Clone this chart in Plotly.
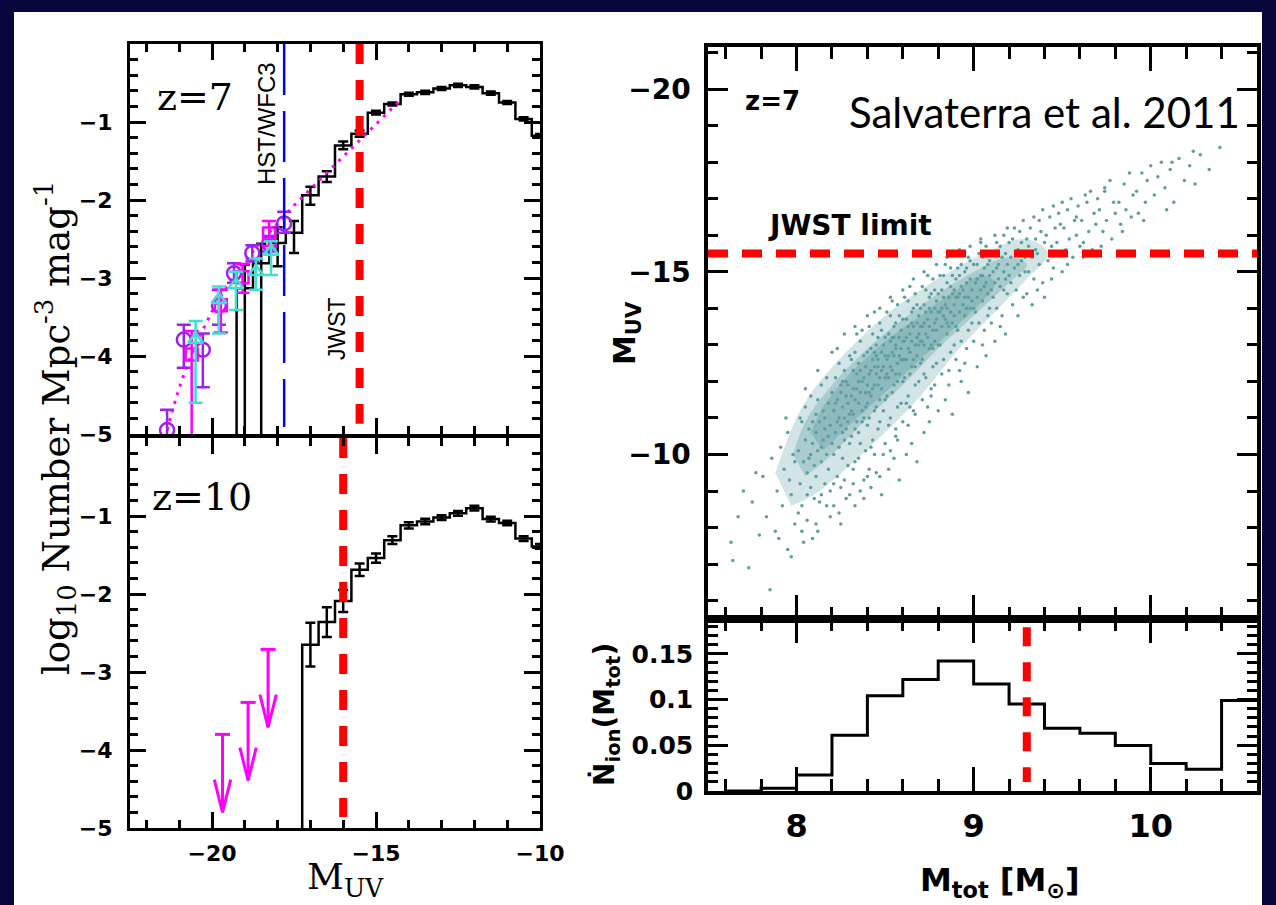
import plotly.graph_objects as go

W, H = 1276, 905

# ---------------- data: left top panel (z=7) ----------------
z7_centers = [-19.0, -18.5, -18.0, -17.5, -17.0, -16.5, -16.0, -15.5, -15.0, -14.5, -14.0,
              -13.5, -13.0, -12.5, -12.0, -11.5, -11.0, -10.5, -10.0]
z7_logphi = [-3.13, -2.81, -2.55, -2.42, -1.94, -1.70, -1.30, -1.15, -0.88, -0.77, -0.645,
             -0.62, -0.57, -0.53, -0.55, -0.63, -0.75, -0.96, -1.175]
z7_err_plus = [0.30, 0.25, 0.20, 0.15, 0.11, 0.07, 0.05, 0.04, 0.025, 0.02, 0.02,
               0.02, 0.02, 0.02, 0.02, 0.02, 0.02, 0.02, 0.02]
z7_err_minus = [5.0, 5.0, 0.30, 0.26, 0.12, 0.07, 0.05, 0.04, 0.025, 0.02, 0.02,
                0.02, 0.02, 0.02, 0.02, 0.02, 0.02, 0.02, 0.02]

obs_circ_mag = [-21.37, -20.86, -20.28, -19.79, -19.33, -18.77, -18.26, -17.80]
obs_circ_phi = [-4.95, -3.79, -3.92, -3.35, -2.94, -2.68, -2.56, -2.30]
obs_circ_up = [0.26, 0.19, 0.21, 0.20, 0.13, 0.10, 0.10, 0.15]
obs_circ_dn = [0.30, 0.36, 0.48, 0.25, 0.12, 0.11, 0.10, 0.12]

obs_sq_mag = [-20.62, -19.73, -19.07, -18.26]
obs_sq_phi = [-3.98, -3.35, -2.99, -2.43]
obs_sq_up = [0.30, 0.20, 0.17, 0.16]
obs_sq_dn = [3.0, 0.35, 0.20, 0.16]

obs_tri_mag = [-20.50, -19.79, -19.27, -18.66, -18.20]
obs_tri_phi = [-3.79, -3.28, -3.09, -2.92, -2.66]
obs_tri_up = [0.24, 0.17, 0.17, 0.17, 0.13]
obs_tri_dn = [0.81, 0.43, 0.32, 0.23, 0.30]

sch_mag = [-21.5, -21.25, -21.0, -20.75, -20.5, -20.25, -20.0, -19.75, -19.5, -19.0, -18.5,
           -18.0, -17.5, -17.0, -16.5, -16.0, -15.5, -15.0, -14.5, -14.2]
sch_logphi = [-5.17, -4.76, -4.41, -4.11, -3.85, -3.63, -3.43, -3.25, -3.08, -2.79, -2.53,
              -2.30, -2.07, -1.86, -1.65, -1.44, -1.23, -1.03, -0.82, -0.70]

hst_limit_z7 = -17.8
jwst_limit_z7 = -15.5

# ---------------- data: left bottom panel (z=10) ----------------
z10_centers = [-17.0, -16.5, -16.0, -15.5, -15.0, -14.5, -14.0, -13.5, -13.0, -12.5, -12.0,
               -11.5, -11.0, -10.5, -10.0]
z10_logphi = [-2.65, -2.36, -2.09, -1.69, -1.54, -1.31, -1.12, -1.07, -1.02, -0.966, -0.90,
              -1.04, -1.09, -1.29, -1.39]
z10_err = [0.28, 0.19, 0.14, 0.08, 0.06, 0.05, 0.04, 0.035, 0.03, 0.03, 0.03,
           0.03, 0.03, 0.03, 0.03]
z10_ul_mag = [-19.68, -18.90, -18.29]
z10_ul_phi = [-3.80, -3.39, -2.71]
jwst_limit_z10 = -16.0

# ---------------- data: right panels ----------------
scatter_points = [
    (7.63, -7.6), (7.64, -7.1), (7.67, -8.3), (7.70, -9.0), (7.73, -6.9), (7.75, -8.7), (7.77, -9.5), (7.79, -7.8),
    (7.81, -9.4), (7.83, -8.3), (7.85, -6.3), (7.86, -9.9), (7.88, -7.9), (7.89, -9.0), (7.91, -10.2), (7.92, -8.6),
    (7.93, -9.6), (7.95, -7.4), (7.95, -10.6), (7.96, -9.3), (7.97, -8.9), (7.98, -10.0), (7.99, -8.1), (8.00, -5.7),
    (7.99, -9.8), (7.94, -11.0), (7.90, -7.7), (7.97, -7.2),
    (8.01, -10.1), (8.02, -9.2), (8.03, -10.9), (8.03, -8.6), (8.04, -9.8), (8.05, -11.3), (8.05, -10.4), (8.06, -9.5),
    (8.06, -8.2), (8.07, -10.7), (8.07, -9.9), (8.08, -11.6), (8.08, -9.1), (8.09, -10.3), (8.09, -10.9), (8.10, -8.8),
    (8.10, -9.7), (8.04, -7.6), (8.02, -11.0), (8.08, -10.0), (8.01, -8.4), (8.03, -7.9), (8.06, -8.9), (8.09, -7.7),
    (8.05, -11.8),
    (8.11, -10.6), (8.11, -9.4), (8.12, -11.5), (8.12, -10.1), (8.13, -8.7), (8.13, -10.9), (8.14, -11.9), (8.14, -9.8),
    (8.15, -10.4), (8.15, -11.2), (8.16, -9.2), (8.16, -10.7), (8.17, -12.1), (8.17, -10.0), (8.18, -11.4), (8.18, -9.6),
    (8.19, -10.8), (8.19, -8.3), (8.20, -11.7), (8.20, -10.3), (8.12, -7.9), (8.16, -11.0), (8.18, -10.5), (8.14, -10.2),
    (8.11, -11.1), (8.11, -8.1), (8.14, -8.9), (8.17, -8.6), (8.19, -9.0), (8.12, -12.3), (8.20, -12.8),
    (8.21, -11.2), (8.21, -10.0), (8.22, -12.1), (8.22, -10.6), (8.23, -11.5), (8.23, -9.4), (8.24, -11.0), (8.24, -12.5),
    (8.25, -10.8), (8.25, -11.7), (8.26, -9.9), (8.26, -11.3), (8.27, -12.3), (8.27, -10.4), (8.28, -11.6), (8.28, -8.8),
    (8.29, -11.9), (8.29, -10.9), (8.30, -12.7), (8.30, -11.1), (8.22, -11.4), (8.24, -10.2), (8.26, -12.0), (8.28, -10.7),
    (8.21, -8.6), (8.23, -12.9), (8.25, -11.9), (8.27, -11.0), (8.29, -9.7), (8.30, -10.3), (8.23, -10.9), (8.26, -10.6),
    (8.28, -12.0), (8.25, -9.1), (8.29, -11.4), (8.21, -9.2), (8.24, -8.4), (8.27, -9.3), (8.30, -8.9), (8.27, -13.3),
    (8.25, -8.1),
    (8.31, -11.6), (8.31, -10.5), (8.32, -12.3), (8.32, -11.1), (8.33, -12.8), (8.33, -9.8), (8.34, -11.8), (8.34, -10.9),
    (8.35, -12.5), (8.35, -11.4), (8.36, -13.1), (8.36, -10.3), (8.37, -12.0), (8.37, -11.2), (8.38, -12.7), (8.38, -9.3),
    (8.39, -11.7), (8.39, -12.4), (8.40, -10.8), (8.40, -11.9), (8.31, -12.6), (8.32, -9.6), (8.33, -11.5), (8.34, -12.2),
    (8.35, -10.6), (8.36, -11.7), (8.37, -13.4), (8.38, -11.0), (8.39, -10.1), (8.40, -12.8), (8.31, -11.2), (8.33, -10.7),
    (8.35, -12.0), (8.37, -10.9), (8.39, -11.3), (8.34, -13.3), (8.36, -12.3), (8.38, -12.1), (8.32, -11.8), (8.40, -11.4),
    (8.32, -9.2), (8.35, -9.9), (8.38, -8.8), (8.33, -13.5), (8.40, -13.8), (8.33, -8.6), (8.36, -9.0), (8.40, -9.4),
    (8.41, -12.2), (8.41, -11.0), (8.42, -12.9), (8.42, -11.6), (8.43, -13.3), (8.43, -10.4), (8.44, -12.4), (8.44, -11.9),
    (8.45, -13.0), (8.45, -11.3), (8.46, -12.6), (8.46, -10.7), (8.47, -13.6), (8.47, -12.1), (8.48, -11.8), (8.48, -12.8),
    (8.49, -10.0), (8.49, -12.4), (8.50, -13.2), (8.50, -11.5), (8.41, -13.5), (8.42, -12.3), (8.43, -11.8), (8.44, -13.9),
    (8.45, -12.2), (8.46, -11.9), (8.47, -10.9), (8.48, -13.4), (8.49, -11.2), (8.50, -12.7), (8.41, -11.7), (8.43, -12.6),
    (8.45, -12.7), (8.47, -11.5), (8.49, -13.0), (8.42, -10.2), (8.44, -11.2), (8.46, -13.2), (8.48, -12.3), (8.50, -12.1),
    (8.46, -12.4), (8.44, -12.8), (8.41, -9.6), (8.44, -10.0), (8.47, -9.4), (8.50, -10.3), (8.47, -14.0),
    (8.42, -9.1), (8.45, -9.5), (8.48, -8.9),
    (8.51, -12.6), (8.51, -11.6), (8.52, -13.3), (8.52, -12.1), (8.53, -13.8), (8.53, -11.0), (8.54, -12.8), (8.54, -12.3),
    (8.55, -13.5), (8.55, -11.9), (8.56, -13.0), (8.56, -10.5), (8.57, -14.1), (8.57, -12.5), (8.58, -12.2), (8.58, -13.2),
    (8.59, -11.4), (8.59, -12.9), (8.60, -13.7), (8.60, -12.0), (8.51, -13.9), (8.52, -12.7), (8.53, -12.4), (8.54, -14.2),
    (8.55, -12.7), (8.56, -12.2), (8.57, -11.3), (8.58, -13.8), (8.59, -12.6), (8.60, -13.1), (8.51, -12.2), (8.53, -13.1),
    (8.55, -13.2), (8.57, -12.0), (8.59, -13.4), (8.52, -10.8), (8.54, -11.7), (8.56, -13.6), (8.58, -12.7), (8.60, -12.6),
    (8.56, -12.9), (8.54, -13.2), (8.53, -10.1), (8.57, -10.4), (8.60, -10.9), (8.53, -14.3), (8.60, -14.5),
    (8.52, -9.6), (8.55, -9.9), (8.58, -9.3), (8.56, -10.7),
    (8.61, -13.1), (8.61, -12.1), (8.62, -13.7), (8.62, -12.6), (8.63, -14.2), (8.63, -11.6), (8.64, -13.3), (8.64, -12.8),
    (8.65, -13.9), (8.65, -12.4), (8.66, -13.5), (8.66, -11.2), (8.67, -14.4), (8.67, -13.0), (8.68, -12.7), (8.68, -13.6),
    (8.69, -12.0), (8.69, -13.3), (8.70, -14.0), (8.70, -12.5), (8.61, -14.3), (8.62, -13.2), (8.63, -12.9), (8.64, -14.6),
    (8.65, -13.1), (8.66, -12.6), (8.67, -11.9), (8.68, -14.1), (8.69, -13.0), (8.70, -13.5), (8.61, -12.6), (8.63, -13.5),
    (8.65, -13.6), (8.67, -12.4), (8.69, -13.8), (8.62, -11.4), (8.64, -12.2), (8.66, -14.0), (8.68, -13.2), (8.70, -13.1),
    (8.63, -10.8), (8.67, -11.1), (8.66, -14.8), (8.62, -10.0), (8.65, -10.3), (8.68, -9.8), (8.64, -11.3),
    (8.71, -13.5), (8.71, -12.6), (8.72, -14.1), (8.72, -13.0), (8.73, -14.5), (8.73, -12.1), (8.74, -13.7), (8.74, -13.2),
    (8.75, -14.3), (8.75, -12.9), (8.76, -13.9), (8.76, -11.8), (8.77, -14.8), (8.77, -13.4), (8.78, -13.1), (8.78, -14.0),
    (8.79, -12.5), (8.79, -13.7), (8.80, -14.4), (8.80, -13.0), (8.71, -14.6), (8.72, -13.6), (8.73, -13.3), (8.74, -14.9),
    (8.75, -13.5), (8.76, -13.0), (8.77, -12.4), (8.78, -14.5), (8.79, -13.4), (8.80, -13.9), (8.71, -13.1), (8.73, -13.9),
    (8.75, -14.0), (8.77, -12.9), (8.79, -14.2), (8.72, -12.2), (8.76, -14.4), (8.78, -13.6), (8.71, -11.5), (8.74, -11.3),
    (8.78, -11.9), (8.72, -15.0), (8.79, -15.2), (8.72, -10.6), (8.75, -10.9), (8.80, -11.2), (8.76, -11.6),
    (8.81, -13.9), (8.81, -13.0), (8.82, -14.5), (8.82, -13.5), (8.83, -14.9), (8.83, -12.6), (8.84, -14.1), (8.84, -13.7),
    (8.85, -14.7), (8.85, -13.3), (8.86, -14.3), (8.86, -12.3), (8.87, -15.1), (8.87, -13.9), (8.88, -13.6), (8.88, -14.4),
    (8.89, -13.0), (8.89, -14.1), (8.90, -14.8), (8.90, -13.5), (8.81, -14.9), (8.82, -14.0), (8.83, -13.8), (8.84, -15.2),
    (8.85, -14.0), (8.86, -13.5), (8.87, -12.8), (8.88, -14.9), (8.89, -13.8), (8.90, -14.3), (8.83, -14.3), (8.85, -13.6),
    (8.87, -14.6), (8.89, -14.5), (8.82, -12.2), (8.86, -11.9), (8.90, -12.6), (8.85, -15.4), (8.84, -11.5), (8.88, -11.1),
    (8.91, -14.3), (8.91, -13.4), (8.92, -14.9), (8.92, -13.9), (8.93, -15.2), (8.93, -13.1), (8.94, -14.5), (8.94, -14.1),
    (8.95, -15.0), (8.95, -13.8), (8.96, -14.7), (8.96, -12.9), (8.97, -15.4), (8.97, -14.3), (8.98, -14.0), (8.98, -14.8),
    (8.99, -13.6), (8.99, -14.5), (9.00, -15.2), (9.00, -14.0), (8.91, -15.1), (8.93, -14.6), (8.94, -15.5), (8.95, -14.3),
    (8.96, -14.0), (8.97, -13.4), (8.98, -15.3), (8.99, -14.2), (8.92, -14.4), (8.96, -15.1), (8.95, -12.5), (9.00, -13.1),
    (8.92, -15.6), (8.98, -15.7), (8.93, -12.0), (8.97, -11.7), (8.92, -12.3),
    (9.01, -14.7), (9.01, -13.9), (9.02, -15.2), (9.02, -14.3), (9.03, -15.5), (9.03, -13.6), (9.04, -14.9), (9.04, -14.5),
    (9.05, -15.4), (9.05, -14.2), (9.06, -15.1), (9.06, -13.4), (9.07, -15.7), (9.07, -14.7), (9.08, -14.4), (9.08, -15.2),
    (9.09, -14.0), (9.09, -14.9), (9.10, -15.5), (9.10, -14.5), (9.02, -14.8), (9.04, -15.8), (9.06, -14.6), (9.08, -13.8),
    (9.09, -15.3), (9.05, -14.9), (9.05, -13.0), (9.10, -13.6), (9.04, -15.9), (9.02, -12.4), (9.07, -12.7),
    (9.11, -15.0), (9.11, -14.3), (9.12, -15.5), (9.12, -14.7), (9.13, -15.8), (9.13, -14.0), (9.14, -15.2), (9.14, -14.8),
    (9.15, -15.7), (9.15, -14.6), (9.16, -15.4), (9.16, -13.8), (9.17, -16.0), (9.17, -15.0), (9.18, -14.8), (9.18, -15.5),
    (9.19, -14.4), (9.19, -15.2), (9.20, -15.8), (9.20, -14.9), (9.13, -15.1), (9.17, -14.5), (9.15, -13.5), (9.12, -16.0),
    (9.19, -16.2), (9.12, -13.1), (9.18, -13.3),
    (9.21, -15.4), (9.21, -14.7), (9.22, -15.9), (9.23, -15.1), (9.23, -16.2), (9.24, -14.5), (9.25, -15.6), (9.25, -15.2),
    (9.26, -16.1), (9.26, -14.9), (9.27, -15.8), (9.28, -14.3), (9.28, -16.4), (9.29, -15.4), (9.29, -15.0), (9.30, -15.9),
    (9.24, -15.5), (9.27, -15.3), (9.22, -14.1), (9.30, -14.4), (9.25, -13.8),
    (9.31, -15.7), (9.31, -15.0), (9.32, -16.2), (9.33, -15.4), (9.34, -16.5), (9.34, -14.8), (9.35, -15.9), (9.36, -15.5),
    (9.37, -16.4), (9.37, -15.2), (9.38, -16.1), (9.39, -14.7), (9.39, -16.7), (9.40, -15.8), (9.35, -15.6), (9.36, -14.5),
    (9.33, -14.1), (9.40, -14.3),
    (9.41, -16.0), (9.42, -15.3), (9.43, -16.5), (9.44, -15.7), (9.45, -16.8), (9.45, -15.1), (9.46, -16.2), (9.47, -15.8),
    (9.48, -16.6), (9.48, -15.5), (9.49, -16.3), (9.50, -15.0), (9.50, -16.9), (9.44, -14.8),
    (9.51, -16.2), (9.52, -15.6), (9.53, -16.7), (9.54, -15.9), (9.55, -17.0), (9.56, -15.4), (9.57, -16.4), (9.58, -16.0),
    (9.59, -16.8), (9.60, -15.7), (9.58, -16.5), (9.53, -15.2),
    (9.61, -16.4), (9.62, -15.8), (9.64, -16.9), (9.65, -16.1), (9.66, -17.2), (9.67, -15.6), (9.68, -16.6), (9.69, -16.3),
    (9.70, -17.0), (9.62, -15.4), (9.63, -17.1),
    (9.71, -16.7), (9.73, -16.1), (9.74, -17.2), (9.75, -16.4), (9.77, -17.5), (9.78, -15.9), (9.79, -16.9), (9.80, -16.6),
    (9.72, -15.7), (9.74, -17.3),
    (9.82, -16.9), (9.83, -16.3), (9.85, -17.4), (9.86, -16.7), (9.88, -17.7), (9.89, -16.5), (9.90, -17.1), (9.84, -16.1),
    (9.92, -17.2), (9.93, -16.6), (9.95, -17.7), (9.97, -16.9), (9.98, -17.5), (10.00, -17.9), (9.96, -16.4),
    (10.02, -17.1), (10.04, -17.6), (10.06, -18.0), (10.08, -17.3), (10.11, -17.8), (10.13, -16.9), (10.16, -18.1),
    (10.19, -17.5), (10.09, -16.7), (10.12, -18.0),
    (10.22, -17.9), (10.25, -17.4), (10.28, -18.2), (10.33, -17.8), (10.39, -18.4), (10.24, -18.3),
]
scatter_mtot = [p[0] for p in scatter_points]
scatter_muv = [p[1] for p in scatter_points]

# nested outlines of the densest part of the point cloud (outer -> inner), tapered at both ends
core_outer_mtot = [7.88, 8.0, 8.1, 8.3, 8.5, 8.7, 8.9, 9.1, 9.3, 9.42,
                   9.3, 9.1, 8.9, 8.7, 8.5, 8.3, 8.1, 7.97]
core_outer_muv = [-9.5, -11.0, -11.8, -12.9, -13.8, -14.5, -15.1, -15.6, -15.9, -15.5,
                  -14.8, -13.8, -12.8, -11.6, -10.6, -9.7, -8.9, -8.6]
core_mid_mtot = [7.98, 8.05, 8.2, 8.4, 8.6, 8.8, 9.0, 9.2, 9.3,
                 9.2, 9.0, 8.8, 8.6, 8.4, 8.2, 8.05]
core_mid_muv = [-10.0, -10.9, -11.9, -12.9, -13.7, -14.4, -15.0, -15.4, -15.2,
                -14.7, -13.8, -12.9, -11.9, -11.0, -10.0, -9.4]
core_in_mtot = [8.08, 8.15, 8.3, 8.5, 8.7, 8.9, 9.05, 9.12,
                9.05, 8.9, 8.7, 8.5, 8.3, 8.15]
core_in_muv = [-10.6, -11.3, -12.2, -13.1, -13.8, -14.5, -14.9, -14.7,
               -14.2, -13.5, -12.6, -11.7, -10.8, -10.1]

jwst_muv_limit = -15.5

nion_edges = [7.6, 7.8, 8.0, 8.2, 8.4, 8.6, 8.8, 9.0, 9.2, 9.4, 9.6, 9.8, 10.0, 10.2, 10.4, 10.6]
nion_values = [0.0, 0.003, 0.0175, 0.061, 0.104, 0.122, 0.142, 0.117, 0.095, 0.0686, 0.063,
               0.0496, 0.030, 0.0237, 0.0988]
nion_jwst_mtot = 9.30

# ---------------- helpers ----------------
def px(x):
    return x / W

def py(y):
    return 1 - y / H

def steps(centers, values, half=0.25, floor=-10.0):
    xs = [centers[0] - half]
    ys = [floor]
    for c, v in zip(centers, values):
        xs.append(c - half)
        ys.append(v)
    xs.append(centers[-1] + half)
    ys.append(values[-1])
    return xs, ys

NAVY = "#06063a"
TEAL = "#5f9ea0"
RED = "#ff0000"
MAG = "#ff00ff"
PURP = "#a020f0"
CYAN = "#40e0d0"

fig = go.Figure()

# ---- top-left panel ----
sx, sy = steps(z7_centers, z7_logphi)
fig.add_trace(go.Scatter(x=sx, y=sy, mode="lines", line=dict(color="black", width=2.5, shape="hv"),
                         xaxis="x", yaxis="y", hoverinfo="skip"))
fig.add_trace(go.Scatter(x=z7_centers, y=z7_logphi, mode="markers", marker=dict(size=1, color="black"),
                         error_y=dict(type="data", symmetric=False, array=z7_err_plus, arrayminus=z7_err_minus,
                                      color="black", thickness=2.5, width=5),
                         xaxis="x", yaxis="y"))
fig.add_trace(go.Scatter(x=sch_mag, y=sch_logphi, mode="lines",
                         line=dict(color=MAG, width=3, dash="3px,6px"), xaxis="x", yaxis="y"))
fig.add_trace(go.Scatter(x=obs_circ_mag, y=obs_circ_phi, mode="markers",
                         marker=dict(symbol="circle-open", size=14, color=PURP, line=dict(width=2.5, color=PURP)),
                         error_y=dict(type="data", symmetric=False, array=obs_circ_up, arrayminus=obs_circ_dn,
                                      color=PURP, thickness=2.5, width=7),
                         xaxis="x", yaxis="y"))
fig.add_trace(go.Scatter(x=obs_sq_mag, y=obs_sq_phi, mode="markers",
                         marker=dict(symbol="square-open", size=12, color=MAG, line=dict(width=2.5, color=MAG)),
                         error_y=dict(type="data", symmetric=False, array=obs_sq_up, arrayminus=obs_sq_dn,
                                      color=MAG, thickness=2.5, width=7),
                         xaxis="x", yaxis="y"))
fig.add_trace(go.Scatter(x=obs_tri_mag, y=obs_tri_phi, mode="markers",
                         marker=dict(symbol="triangle-up-open", size=13, color=CYAN, line=dict(width=2.5, color=CYAN)),
                         error_y=dict(type="data", symmetric=False, array=obs_tri_up, arrayminus=obs_tri_dn,
                                      color=CYAN, thickness=2.5, width=7),
                         xaxis="x", yaxis="y"))
fig.add_trace(go.Scatter(x=[hst_limit_z7, hst_limit_z7], y=[0, -4.91], mode="lines",
                         line=dict(color="#0000ff", width=2.5, dash="51px,16px"), xaxis="x", yaxis="y"))
fig.add_trace(go.Scatter(x=[jwst_limit_z7, jwst_limit_z7], y=[0, -4.87], mode="lines",
                         line=dict(color=RED, width=8, dash="20px,16px"), xaxis="x", yaxis="y"))

# ---- bottom-left panel ----
sx, sy = steps(z10_centers, z10_logphi)
fig.add_trace(go.Scatter(x=sx, y=sy, mode="lines", line=dict(color="black", width=2.5, shape="hv"),
                         xaxis="x2", yaxis="y2"))
fig.add_trace(go.Scatter(x=z10_centers, y=z10_logphi, mode="markers", marker=dict(size=1, color="black"),
                         error_y=dict(type="data", array=z10_err, color="black", thickness=2.5, width=5),
                         xaxis="x2", yaxis="y2"))
ax, ay = [], []
for m, p in zip(z10_ul_mag, z10_ul_phi):
    ax += [m - 0.23, m + 0.23, None, m, m, None, m - 0.25, m, m + 0.25, None]
    ay += [p, p, None, p, p - 1.0, None, p - 0.58, p - 1.0, p - 0.58, None]
fig.add_trace(go.Scatter(x=ax, y=ay, mode="lines", line=dict(color=MAG, width=3), xaxis="x2", yaxis="y2"))
fig.add_trace(go.Scatter(x=[jwst_limit_z10, jwst_limit_z10], y=[0, -4.86], mode="lines",
                         line=dict(color=RED, width=8, dash="20px,16px"), xaxis="x2", yaxis="y2"))

# ---- scatter panel ----
for cx, cy, op in [(core_outer_mtot, core_outer_muv, 0.28),
                   (core_mid_mtot, core_mid_muv, 0.34),
                   (core_in_mtot, core_in_muv, 0.40)]:
    fig.add_trace(go.Scatter(x=cx, y=cy, mode="lines", fill="toself", fillcolor=TEAL,
                             line=dict(width=0, color=TEAL, shape="spline"), opacity=op,
                             xaxis="x3", yaxis="y3"))
fig.add_trace(go.Scatter(x=scatter_mtot, y=scatter_muv, mode="markers",
                         marker=dict(size=3.5, color=TEAL, line=dict(width=0)), xaxis="x3", yaxis="y3"))
fig.add_trace(go.Scatter(x=[7.5, 10.6], y=[jwst_muv_limit, jwst_muv_limit], mode="lines",
                         line=dict(color=RED, width=8, dash="20px,14px"), xaxis="x3", yaxis="y3"))

# ---- Nion histogram ----
hx = nion_edges[:-1] + [nion_edges[-1]]
hy = nion_values + [nion_values[-1]]
fig.add_trace(go.Scatter(x=hx, y=hy, mode="lines", line=dict(color="black", width=3, shape="hv"),
                         xaxis="x4", yaxis="y4"))
fig.add_trace(go.Scatter(x=[nion_jwst_mtot, nion_jwst_mtot], y=[0.179, 0.0098], mode="lines",
                         line=dict(color=RED, width=8, dash="19px,16px"), xaxis="x4", yaxis="y4"))

# ---------------- axes ----------------
def left_axis(dom, **kw):
    d = dict(domain=dom, showline=True, linecolor="black", linewidth=3, mirror="allticks",
             ticks="inside", ticklen=16, tickwidth=2.5, tickcolor="black", showgrid=False,
             zeroline=False, automargin=False,
             tickfont=dict(family="DejaVu Sans", size=22, color="black", weight="bold"))
    d.update(kw)
    return d

xl = [px(130), px(540)]
minor_x = dict(dtick=1, tick0=-20, ticklen=8, tickwidth=2.5, tickcolor="black", ticks="inside")
minor_y = dict(dtick=0.2, ticklen=8, tickwidth=2.5, tickcolor="black", ticks="inside")

layout_axes = dict(
    xaxis=left_axis(xl, range=[-22.5, -10], tick0=-20, dtick=5, minor=minor_x, showticklabels=False,
                    anchor="y"),
    yaxis=left_axis([py(434), py(44)], range=[-5, 0], tick0=-5, dtick=1, minor=minor_y, anchor="x",
                    tickvals=[-1, -2, -3, -4, -5], ticklabelstandoff=10),
    xaxis2=left_axis(xl, range=[-22.5, -10], tick0=-20, dtick=5, minor=minor_x, anchor="y2",
                     ticklabelstandoff=4),
    yaxis2=left_axis([py(828), py(438)], range=[-5, 0], tick0=-5, dtick=1, minor=minor_y, anchor="x2",
                     tickvals=[-1, -2, -3, -4, -5], ticklabelstandoff=10),
)

xr = [px(708), px(1257)]
right_common = dict(showline=True, linecolor="black", linewidth=3.5, mirror="allticks", ticks="inside",
                    tickcolor="black", tickwidth=3, showgrid=False, zeroline=False, automargin=False)
layout_axes.update(
    xaxis3=dict(domain=xr, range=[7.5, 10.6], tick0=8, dtick=1, ticklen=24, showticklabels=False,
                minor=dict(dtick=0.2, ticklen=12, tickwidth=3, tickcolor="black", ticks="inside"),
                anchor="y3", **right_common),
    yaxis3=dict(domain=[py(619), py(47)], range=[-5.5, -21.15], tick0=-20, dtick=5, ticklen=20,
                minor=dict(dtick=1, ticklen=10, tickwidth=3, tickcolor="black", ticks="inside"),
                tickfont=dict(family="DejaVu Sans", size=28, color="black", weight="bold"),
                ticklabelstandoff=8, anchor="x3", **right_common),
    xaxis4=dict(domain=xr, range=[7.5, 10.6], tick0=8, dtick=1, ticklen=24,
                minor=dict(dtick=0.2, ticklen=12, tickwidth=3, tickcolor="black", ticks="inside"),
                tickfont=dict(family="Liberation Sans Narrow, DejaVu Sans", size=32, color="black", weight="bold"),
                ticklabelstandoff=4, anchor="y4", **right_common),
    yaxis4=dict(domain=[py(791), py(619)], range=[0, 0.188], tick0=0, dtick=0.05, ticklen=20,
                minor=dict(dtick=0.01, ticklen=10, tickwidth=3, tickcolor="black", ticks="inside"),
                tickfont=dict(family="DejaVu Sans", size=25, color="black", weight="bold"),
                ticklabelstandoff=6, anchor="x4", **right_common),
)

# ---------------- annotations ----------------
def ann(text, x, y, size, family, angle=0, color="black", weight="normal"):
    return dict(text=text, x=px(x), y=py(y), xref="paper", yref="paper", showarrow=False,
                xanchor="center", yanchor="middle", textangle=angle,
                font=dict(family=family, size=size, color=color, weight=weight))

SERIF = "DejaVu Serif"
annotations = [
    ann("z=7", 195, 97, 38, SERIF),
    ann("z=10", 202, 497, 38, SERIF),
    ann("HST/WFC3", 267, 124, 24, "Liberation Sans", angle=-90),
    ann("JWST", 337, 329, 23, "Liberation Sans", angle=-90),
    ann("log<sub>10</sub> Number Mpc<sup>-3</sup> mag<sup>-1</sup>", 55, 428, 37, SERIF, angle=-90),
    ann("M<sub>UV</sub>", 345, 879, 36, SERIF),
    ann("z=7", 772, 101, 26, "DejaVu Sans", weight="bold"),
    ann("Salvaterra et al. 2011", 1044, 112, 42, "Lato"),
    ann("JWST limit", 850, 226, 28, "DejaVu Sans", weight="bold"),
    ann("M<sub>UV</sub>", 626, 333, 30, "DejaVu Sans", angle=-90, weight="bold"),
    ann("Ṅ<sub>ion</sub>(M<sub>tot</sub>)", 606, 715, 28, "DejaVu Sans", angle=-90, weight="bold"),
    ann("M<sub>tot</sub> [M<sub>⊙</sub>]", 1000, 882, 32, "DejaVu Sans", weight="bold"),
]

fig.update_layout(
    width=W, height=H, autosize=False,
    margin=dict(l=0, r=0, t=0, b=0, pad=0, autoexpand=False),
    paper_bgcolor=NAVY, plot_bgcolor="white", showlegend=False,
    shapes=[dict(type="rect", xref="paper", yref="paper", x0=px(14), x1=px(1262), y0=0, y1=py(12),
                 fillcolor="white", line=dict(width=0), layer="below")],
    annotations=annotations,
    **layout_axes,
)

fig.write_html(
    "out.html",
    config={"responsive": False, "displayModeBar": False},
    post_script="document.body.style.margin='0px';document.body.style.overflow='hidden';",
)
